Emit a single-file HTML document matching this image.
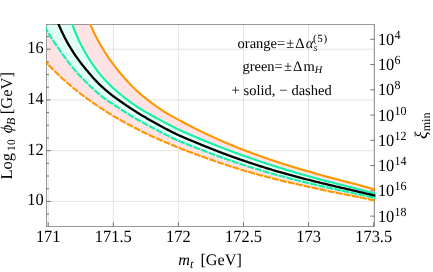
<!DOCTYPE html><html><head><meta charset="utf-8"><title>chart</title><style>
html,body{margin:0;padding:0;background:#fff}
body{width:433px;height:272px;position:relative;overflow:hidden;font-family:"Liberation Serif",serif;color:#000;text-rendering:geometricPrecision}
.t{position:absolute;white-space:nowrap;line-height:1;font-size:16px}
.c{transform:translateX(-50%)}
.r{transform:translateX(-100%)}
.cy{transform:translateX(-50%) scaleY(1.04);transform-origin:50% 84%}
.ry{transform:translateX(-100%) scaleY(1.04);transform-origin:50% 84%}
.y{transform:scaleY(1.04);transform-origin:0 84%}
.s{position:relative}

</style></head><body>
<svg width="433" height="272" viewBox="0 0 433 272" style="position:absolute;left:0;top:0">
<defs><clipPath id="c"><rect x="46.5" y="24.5" width="328.0" height="202.0"/></clipPath><clipPath id="c2"><rect x="46.1" y="24.1" width="329.3" height="202.8"/></clipPath></defs>
<rect x="0" y="0" width="433" height="272" fill="#fff"/>
<line x1="48.20" x2="48.20" y1="24.5" y2="226.5" stroke="#d8d8d8" stroke-width="0.7"/>
<line x1="113.30" x2="113.30" y1="24.5" y2="226.5" stroke="#d8d8d8" stroke-width="0.7"/>
<line x1="178.40" x2="178.40" y1="24.5" y2="226.5" stroke="#d8d8d8" stroke-width="0.7"/>
<line x1="243.50" x2="243.50" y1="24.5" y2="226.5" stroke="#d8d8d8" stroke-width="0.7"/>
<line x1="308.60" x2="308.60" y1="24.5" y2="226.5" stroke="#d8d8d8" stroke-width="0.7"/>
<line x1="373.70" x2="373.70" y1="24.5" y2="226.5" stroke="#d8d8d8" stroke-width="0.7"/>
<line x1="46.5" x2="374.5" y1="201.40" y2="201.40" stroke="#d8d8d8" stroke-width="0.7"/>
<line x1="46.5" x2="374.5" y1="150.66" y2="150.66" stroke="#d8d8d8" stroke-width="0.7"/>
<line x1="46.5" x2="374.5" y1="99.92" y2="99.92" stroke="#d8d8d8" stroke-width="0.7"/>
<line x1="46.5" x2="374.5" y1="49.18" y2="49.18" stroke="#d8d8d8" stroke-width="0.7"/>
<g clip-path="url(#c)">
<path d="M46.50 24.50 L86.50 15.33 L87.40 17.62 L88.31 19.84 L89.22 22.01 L90.13 24.12 L91.03 26.18 L91.94 28.18 L92.85 30.13 L93.76 32.04 L94.66 33.90 L95.57 35.71 L96.48 37.49 L97.38 39.22 L98.29 40.91 L99.20 42.56 L100.11 44.18 L101.01 45.76 L101.92 47.31 L102.83 48.83 L103.74 50.32 L104.64 51.77 L105.55 53.20 L106.46 54.60 L107.36 55.97 L108.27 57.31 L109.18 58.63 L110.09 59.93 L110.99 61.20 L111.90 62.45 L112.81 63.67 L113.72 64.88 L114.62 66.06 L115.53 67.22 L116.44 68.38 L117.34 69.51 L118.25 70.64 L119.16 71.75 L120.07 72.85 L120.97 73.94 L121.88 75.01 L122.79 76.08 L123.70 77.12 L124.60 78.16 L125.51 79.18 L126.42 80.19 L127.32 81.19 L128.23 82.17 L129.14 83.14 L130.05 84.10 L130.95 85.04 L131.86 85.97 L132.77 86.88 L133.68 87.78 L134.58 88.66 L135.49 89.53 L136.40 90.39 L137.30 91.23 L138.21 92.05 L139.12 92.85 L140.03 93.64 L140.93 94.42 L141.84 95.19 L142.75 95.95 L143.66 96.70 L144.56 97.44 L145.47 98.17 L146.38 98.89 L147.28 99.61 L148.19 100.32 L149.10 101.02 L150.01 101.71 L150.91 102.40 L151.82 103.08 L152.73 103.75 L153.64 104.41 L154.54 105.07 L155.45 105.72 L156.36 106.36 L157.26 107.00 L158.17 107.63 L159.08 108.26 L159.99 108.88 L160.89 109.49 L161.80 110.09 L162.71 110.68 L163.62 111.26 L164.52 111.83 L165.43 112.39 L166.34 112.94 L167.24 113.49 L168.15 114.02 L169.06 114.56 L169.97 115.08 L170.87 115.60 L171.78 116.11 L172.69 116.62 L173.60 117.12 L174.50 117.62 L175.41 118.12 L176.32 118.61 L177.22 119.10 L178.13 119.59 L179.04 120.08 L179.95 120.56 L180.85 121.05 L181.76 121.53 L182.67 122.02 L183.58 122.51 L184.48 122.99 L185.39 123.48 L186.30 123.97 L187.20 124.45 L188.11 124.93 L189.02 125.40 L189.93 125.88 L190.83 126.35 L191.74 126.81 L192.65 127.27 L193.56 127.73 L194.46 128.19 L195.37 128.64 L196.28 129.09 L197.18 129.54 L198.09 129.99 L199.00 130.43 L199.91 130.88 L200.81 131.32 L201.72 131.76 L202.63 132.20 L203.54 132.63 L204.44 133.07 L205.35 133.50 L206.26 133.93 L207.16 134.36 L208.07 134.78 L208.98 135.21 L209.89 135.63 L210.79 136.05 L211.70 136.47 L212.61 136.89 L213.52 137.31 L214.42 137.72 L215.33 138.13 L216.24 138.54 L217.14 138.95 L218.05 139.36 L218.96 139.76 L219.87 140.16 L220.77 140.56 L221.68 140.96 L222.59 141.36 L223.50 141.75 L224.40 142.14 L225.31 142.53 L226.22 142.92 L227.12 143.30 L228.03 143.69 L228.94 144.07 L229.85 144.45 L230.75 144.82 L231.66 145.20 L232.57 145.57 L233.48 145.94 L234.38 146.31 L235.29 146.67 L236.20 147.03 L237.10 147.40 L238.01 147.75 L238.92 148.11 L239.83 148.47 L240.73 148.82 L241.64 149.18 L242.55 149.53 L243.46 149.88 L244.36 150.23 L245.27 150.58 L246.18 150.92 L247.08 151.27 L247.99 151.61 L248.90 151.95 L249.81 152.29 L250.71 152.63 L251.62 152.97 L252.53 153.31 L253.44 153.64 L254.34 153.98 L255.25 154.31 L256.16 154.64 L257.06 154.97 L257.97 155.30 L258.88 155.62 L259.79 155.95 L260.69 156.27 L261.60 156.60 L262.51 156.92 L263.42 157.24 L264.32 157.56 L265.23 157.87 L266.14 158.19 L267.04 158.50 L267.95 158.82 L268.86 159.13 L269.77 159.44 L270.67 159.75 L271.58 160.06 L272.49 160.36 L273.40 160.67 L274.30 160.97 L275.21 161.27 L276.12 161.58 L277.02 161.88 L277.93 162.17 L278.84 162.47 L279.75 162.77 L280.65 163.06 L281.56 163.35 L282.47 163.65 L283.38 163.94 L284.28 164.22 L285.19 164.51 L286.10 164.80 L287.00 165.08 L287.91 165.37 L288.82 165.65 L289.73 165.93 L290.63 166.21 L291.54 166.49 L292.45 166.77 L293.36 167.04 L294.26 167.32 L295.17 167.59 L296.08 167.87 L296.98 168.14 L297.89 168.41 L298.80 168.68 L299.71 168.95 L300.61 169.22 L301.52 169.48 L302.43 169.75 L303.34 170.01 L304.24 170.28 L305.15 170.54 L306.06 170.80 L306.96 171.07 L307.87 171.33 L308.78 171.59 L309.69 171.85 L310.59 172.10 L311.50 172.36 L312.41 172.62 L313.32 172.88 L314.22 173.13 L315.13 173.39 L316.04 173.64 L316.94 173.89 L317.85 174.15 L318.76 174.40 L319.67 174.65 L320.57 174.90 L321.48 175.15 L322.39 175.41 L323.30 175.66 L324.20 175.90 L325.11 176.15 L326.02 176.40 L326.92 176.65 L327.83 176.90 L328.74 177.15 L329.65 177.39 L330.55 177.64 L331.46 177.88 L332.37 178.12 L333.28 178.36 L334.18 178.60 L335.09 178.84 L336.00 179.08 L336.90 179.32 L337.81 179.55 L338.72 179.79 L339.63 180.02 L340.53 180.26 L341.44 180.50 L342.35 180.73 L343.26 180.97 L344.16 181.20 L345.07 181.44 L345.98 181.67 L346.88 181.91 L347.79 182.14 L348.70 182.38 L349.61 182.62 L350.51 182.86 L351.42 183.10 L352.33 183.33 L353.24 183.58 L354.14 183.82 L355.05 184.06 L355.96 184.31 L356.86 184.55 L357.77 184.80 L358.68 185.05 L359.59 185.30 L360.49 185.55 L361.40 185.80 L362.31 186.05 L363.22 186.30 L364.12 186.55 L365.03 186.80 L365.94 187.05 L366.84 187.30 L367.75 187.55 L368.66 187.80 L369.57 188.04 L370.47 188.28 L371.38 188.53 L372.29 188.77 L373.20 189.00 L374.10 189.24 L375.01 189.47 L375.92 189.71 L376.82 189.94 L377.73 190.17 L378.64 190.40 L379.55 190.63 L379.32 201.23 L379.32 201.23 L378.41 201.07 L377.51 200.90 L376.60 200.74 L375.69 200.58 L374.78 200.41 L373.88 200.25 L372.97 200.08 L372.06 199.90 L371.15 199.73 L370.25 199.55 L369.34 199.37 L368.43 199.18 L367.53 199.00 L366.62 198.81 L365.71 198.62 L364.80 198.43 L363.90 198.24 L362.99 198.05 L362.08 197.86 L361.17 197.67 L360.27 197.48 L359.36 197.29 L358.45 197.11 L357.55 196.92 L356.64 196.73 L355.73 196.55 L354.82 196.37 L353.92 196.20 L353.01 196.02 L352.10 195.85 L351.19 195.67 L350.29 195.49 L349.38 195.32 L348.47 195.14 L347.57 194.97 L346.66 194.79 L345.75 194.62 L344.84 194.44 L343.94 194.26 L343.03 194.09 L342.12 193.91 L341.21 193.73 L340.31 193.56 L339.40 193.38 L338.49 193.20 L337.59 193.02 L336.68 192.84 L335.77 192.65 L334.86 192.47 L333.96 192.29 L333.05 192.10 L332.14 191.92 L331.23 191.73 L330.33 191.55 L329.42 191.36 L328.51 191.17 L327.61 190.98 L326.70 190.78 L325.79 190.59 L324.88 190.40 L323.98 190.20 L323.07 190.01 L322.16 189.82 L321.25 189.62 L320.35 189.42 L319.44 189.23 L318.53 189.03 L317.63 188.83 L316.72 188.63 L315.81 188.43 L314.90 188.23 L314.00 188.03 L313.09 187.83 L312.18 187.63 L311.27 187.43 L310.37 187.23 L309.46 187.02 L308.55 186.82 L307.65 186.61 L306.74 186.41 L305.83 186.20 L304.92 185.99 L304.02 185.79 L303.11 185.58 L302.20 185.37 L301.29 185.16 L300.39 184.95 L299.48 184.74 L298.57 184.53 L297.67 184.33 L296.76 184.12 L295.85 183.92 L294.94 183.72 L294.04 183.52 L293.13 183.32 L292.22 183.13 L291.31 182.93 L290.41 182.73 L289.50 182.53 L288.59 182.33 L287.69 182.13 L286.78 181.93 L285.87 181.72 L284.96 181.52 L284.06 181.31 L283.15 181.10 L282.24 180.88 L281.33 180.66 L280.43 180.44 L279.52 180.21 L278.61 179.98 L277.71 179.75 L276.80 179.52 L275.89 179.29 L274.98 179.06 L274.08 178.82 L273.17 178.59 L272.26 178.35 L271.35 178.12 L270.45 177.88 L269.54 177.64 L268.63 177.40 L267.73 177.16 L266.82 176.92 L265.91 176.67 L265.00 176.43 L264.10 176.18 L263.19 175.94 L262.28 175.69 L261.37 175.44 L260.47 175.19 L259.56 174.94 L258.65 174.69 L257.75 174.44 L256.84 174.18 L255.93 173.93 L255.02 173.67 L254.12 173.42 L253.21 173.16 L252.30 172.90 L251.39 172.64 L250.49 172.38 L249.58 172.12 L248.67 171.85 L247.77 171.59 L246.86 171.32 L245.95 171.06 L245.04 170.79 L244.14 170.52 L243.23 170.25 L242.32 169.98 L241.41 169.71 L240.51 169.44 L239.60 169.16 L238.69 168.89 L237.79 168.61 L236.88 168.34 L235.97 168.06 L235.06 167.78 L234.16 167.50 L233.25 167.21 L232.34 166.93 L231.43 166.64 L230.53 166.35 L229.62 166.06 L228.71 165.77 L227.81 165.48 L226.90 165.18 L225.99 164.88 L225.08 164.58 L224.18 164.28 L223.27 163.98 L222.36 163.68 L221.45 163.37 L220.55 163.07 L219.64 162.76 L218.73 162.45 L217.83 162.14 L216.92 161.83 L216.01 161.52 L215.10 161.20 L214.20 160.89 L213.29 160.57 L212.38 160.26 L211.47 159.94 L210.57 159.62 L209.66 159.30 L208.75 158.98 L207.85 158.65 L206.94 158.33 L206.03 158.01 L205.12 157.68 L204.22 157.36 L203.31 157.03 L202.40 156.70 L201.49 156.37 L200.59 156.04 L199.68 155.71 L198.77 155.38 L197.87 155.05 L196.96 154.72 L196.05 154.39 L195.14 154.06 L194.24 153.72 L193.33 153.38 L192.42 153.05 L191.51 152.71 L190.61 152.37 L189.70 152.02 L188.79 151.68 L187.89 151.33 L186.98 150.99 L186.07 150.64 L185.16 150.29 L184.26 149.94 L183.35 149.58 L182.44 149.23 L181.53 148.87 L180.63 148.51 L179.72 148.15 L178.81 147.79 L177.91 147.43 L177.00 147.06 L176.09 146.70 L175.18 146.33 L174.28 145.96 L173.37 145.58 L172.46 145.21 L171.55 144.83 L170.65 144.46 L169.74 144.08 L168.83 143.70 L167.93 143.31 L167.02 142.93 L166.11 142.54 L165.20 142.15 L164.30 141.76 L163.39 141.37 L162.48 140.97 L161.57 140.58 L160.67 140.18 L159.76 139.78 L158.85 139.37 L157.95 138.97 L157.04 138.56 L156.13 138.15 L155.22 137.74 L154.32 137.33 L153.41 136.91 L152.50 136.50 L151.59 136.08 L150.69 135.65 L149.78 135.23 L148.87 134.80 L147.97 134.37 L147.06 133.94 L146.15 133.51 L145.24 133.07 L144.34 132.64 L143.43 132.19 L142.52 131.75 L141.61 131.30 L140.71 130.86 L139.80 130.40 L138.89 129.95 L137.99 129.49 L137.08 129.04 L136.17 128.57 L135.26 128.11 L134.36 127.64 L133.45 127.17 L132.54 126.70 L131.63 126.22 L130.73 125.74 L129.82 125.26 L128.91 124.78 L128.01 124.29 L127.10 123.80 L126.19 123.31 L125.28 122.81 L124.38 122.31 L123.47 121.81 L122.56 121.30 L121.65 120.79 L120.75 120.28 L119.84 119.77 L118.93 119.25 L118.03 118.73 L117.12 118.20 L116.21 117.67 L115.30 117.14 L114.40 116.61 L113.49 116.07 L112.58 115.52 L111.67 114.98 L110.77 114.43 L109.86 113.88 L108.95 113.32 L108.05 112.76 L107.14 112.19 L106.23 111.63 L105.32 111.05 L104.42 110.48 L103.51 109.90 L102.60 109.31 L101.69 108.72 L100.79 108.13 L99.88 107.54 L98.97 106.94 L98.07 106.33 L97.16 105.72 L96.25 105.11 L95.34 104.49 L94.44 103.87 L93.53 103.24 L92.62 102.61 L91.71 101.97 L90.81 101.33 L89.90 100.69 L88.99 100.04 L88.09 99.38 L87.18 98.72 L86.27 98.06 L85.36 97.39 L84.46 96.71 L83.55 96.03 L82.64 95.35 L81.73 94.65 L80.83 93.96 L79.92 93.26 L79.01 92.55 L78.11 91.84 L77.20 91.12 L76.29 90.39 L75.38 89.66 L74.48 88.93 L73.57 88.18 L72.66 87.44 L71.75 86.68 L70.85 85.92 L69.94 85.15 L69.03 84.38 L68.13 83.60 L67.22 82.81 L66.31 82.02 L65.40 81.22 L64.50 80.41 L63.59 79.60 L62.68 78.78 L61.77 77.95 L60.87 77.11 L59.96 76.27 L59.05 75.42 L58.15 74.56 L57.24 73.69 L56.33 72.82 L55.42 71.94 L54.52 71.05 L53.61 70.15 L52.70 69.24 L51.79 68.33 L50.89 67.40 L49.98 66.47 L49.07 65.53 L48.17 64.58 L47.26 63.62 L46.35 62.65 L45.44 61.67 L44.54 60.68 L43.63 59.68 L42.72 58.67 L41.81 57.65 L40.91 56.62 L40.00 55.58 Z" fill="#ffe3e4"/>
<path d="M46.50 24.50 L69.26 15.18 L70.17 18.08 L71.07 20.84 L71.98 23.49 L72.89 26.01 L73.80 28.44 L74.70 30.77 L75.61 33.01 L76.52 35.16 L77.42 37.24 L78.33 39.24 L79.24 41.18 L80.15 43.05 L81.05 44.87 L81.96 46.62 L82.87 48.33 L83.78 49.98 L84.68 51.59 L85.59 53.15 L86.50 54.68 L87.40 56.18 L88.31 57.65 L89.22 59.09 L90.13 60.51 L91.03 61.89 L91.94 63.25 L92.85 64.58 L93.76 65.89 L94.66 67.17 L95.57 68.43 L96.48 69.65 L97.38 70.86 L98.29 72.03 L99.20 73.19 L100.11 74.31 L101.01 75.41 L101.92 76.48 L102.83 77.53 L103.74 78.55 L104.64 79.54 L105.55 80.51 L106.46 81.45 L107.36 82.39 L108.27 83.31 L109.18 84.21 L110.09 85.10 L110.99 85.97 L111.90 86.83 L112.81 87.68 L113.72 88.52 L114.62 89.34 L115.53 90.16 L116.44 90.96 L117.34 91.75 L118.25 92.52 L119.16 93.29 L120.07 94.05 L120.97 94.80 L121.88 95.54 L122.79 96.27 L123.70 96.99 L124.60 97.70 L125.51 98.40 L126.42 99.10 L127.32 99.78 L128.23 100.46 L129.14 101.13 L130.05 101.80 L130.95 102.45 L131.86 103.10 L132.77 103.74 L133.68 104.38 L134.58 105.01 L135.49 105.63 L136.40 106.24 L137.30 106.84 L138.21 107.43 L139.12 108.02 L140.03 108.59 L140.93 109.16 L141.84 109.72 L142.75 110.27 L143.66 110.82 L144.56 111.36 L145.47 111.89 L146.38 112.42 L147.28 112.94 L148.19 113.46 L149.10 113.97 L150.01 114.48 L150.91 114.99 L151.82 115.49 L152.73 115.99 L153.64 116.48 L154.54 116.98 L155.45 117.47 L156.36 117.96 L157.26 118.45 L158.17 118.94 L159.08 119.43 L159.99 119.92 L160.89 120.41 L161.80 120.90 L162.71 121.38 L163.62 121.87 L164.52 122.35 L165.43 122.83 L166.34 123.31 L167.24 123.79 L168.15 124.27 L169.06 124.74 L169.97 125.21 L170.87 125.67 L171.78 126.14 L172.69 126.59 L173.60 127.05 L174.50 127.50 L175.41 127.95 L176.32 128.39 L177.22 128.83 L178.13 129.26 L179.04 129.69 L179.95 130.11 L180.85 130.53 L181.76 130.94 L182.67 131.35 L183.58 131.76 L184.48 132.17 L185.39 132.57 L186.30 132.97 L187.20 133.37 L188.11 133.77 L189.02 134.16 L189.93 134.55 L190.83 134.94 L191.74 135.33 L192.65 135.72 L193.56 136.10 L194.46 136.49 L195.37 136.87 L196.28 137.26 L197.18 137.64 L198.09 138.03 L199.00 138.41 L199.91 138.79 L200.81 139.17 L201.72 139.55 L202.63 139.92 L203.54 140.30 L204.44 140.67 L205.35 141.05 L206.26 141.42 L207.16 141.79 L208.07 142.16 L208.98 142.53 L209.89 142.90 L210.79 143.27 L211.70 143.64 L212.61 144.00 L213.52 144.36 L214.42 144.73 L215.33 145.09 L216.24 145.45 L217.14 145.81 L218.05 146.16 L218.96 146.52 L219.87 146.88 L220.77 147.23 L221.68 147.58 L222.59 147.93 L223.50 148.28 L224.40 148.63 L225.31 148.98 L226.22 149.32 L227.12 149.67 L228.03 150.01 L228.94 150.35 L229.85 150.69 L230.75 151.03 L231.66 151.37 L232.57 151.70 L233.48 152.04 L234.38 152.37 L235.29 152.70 L236.20 153.03 L237.10 153.36 L238.01 153.69 L238.92 154.02 L239.83 154.34 L240.73 154.67 L241.64 154.99 L242.55 155.32 L243.46 155.64 L244.36 155.96 L245.27 156.28 L246.18 156.60 L247.08 156.92 L247.99 157.24 L248.90 157.56 L249.81 157.88 L250.71 158.19 L251.62 158.51 L252.53 158.82 L253.44 159.13 L254.34 159.45 L255.25 159.76 L256.16 160.07 L257.06 160.38 L257.97 160.68 L258.88 160.99 L259.79 161.30 L260.69 161.60 L261.60 161.91 L262.51 162.21 L263.42 162.51 L264.32 162.81 L265.23 163.11 L266.14 163.41 L267.04 163.70 L267.95 164.00 L268.86 164.30 L269.77 164.59 L270.67 164.88 L271.58 165.17 L272.49 165.46 L273.40 165.75 L274.30 166.04 L275.21 166.33 L276.12 166.61 L277.02 166.89 L277.93 167.18 L278.84 167.46 L279.75 167.74 L280.65 168.02 L281.56 168.29 L282.47 168.57 L283.38 168.85 L284.28 169.12 L285.19 169.40 L286.10 169.67 L287.00 169.95 L287.91 170.22 L288.82 170.49 L289.73 170.77 L290.63 171.04 L291.54 171.31 L292.45 171.58 L293.36 171.85 L294.26 172.12 L295.17 172.39 L296.08 172.65 L296.98 172.92 L297.89 173.19 L298.80 173.46 L299.71 173.72 L300.61 173.99 L301.52 174.25 L302.43 174.51 L303.34 174.77 L304.24 175.03 L305.15 175.29 L306.06 175.54 L306.96 175.80 L307.87 176.05 L308.78 176.30 L309.69 176.55 L310.59 176.80 L311.50 177.05 L312.41 177.30 L313.32 177.54 L314.22 177.79 L315.13 178.03 L316.04 178.28 L316.94 178.52 L317.85 178.76 L318.76 179.01 L319.67 179.25 L320.57 179.49 L321.48 179.73 L322.39 179.97 L323.30 180.21 L324.20 180.45 L325.11 180.69 L326.02 180.92 L326.92 181.16 L327.83 181.40 L328.74 181.64 L329.65 181.88 L330.55 182.11 L331.46 182.34 L332.37 182.58 L333.28 182.81 L334.18 183.04 L335.09 183.27 L336.00 183.49 L336.90 183.72 L337.81 183.95 L338.72 184.17 L339.63 184.40 L340.53 184.63 L341.44 184.85 L342.35 185.08 L343.26 185.30 L344.16 185.53 L345.07 185.76 L345.98 185.99 L346.88 186.21 L347.79 186.44 L348.70 186.67 L349.61 186.90 L350.51 187.13 L351.42 187.37 L352.33 187.60 L353.24 187.84 L354.14 188.08 L355.05 188.32 L355.96 188.56 L356.86 188.80 L357.77 189.05 L358.68 189.29 L359.59 189.54 L360.49 189.79 L361.40 190.03 L362.31 190.28 L363.22 190.53 L364.12 190.78 L365.03 191.03 L365.94 191.27 L366.84 191.52 L367.75 191.77 L368.66 192.01 L369.57 192.25 L370.47 192.50 L371.38 192.73 L372.29 192.97 L373.20 193.21 L374.10 193.44 L375.01 193.67 L375.92 193.90 L376.82 194.13 L377.73 194.36 L378.64 194.59 L379.55 194.82 L379.32 198.74 L379.32 198.74 L378.41 198.55 L377.51 198.37 L376.60 198.19 L375.69 198.00 L374.78 197.82 L373.88 197.63 L372.97 197.44 L372.06 197.25 L371.15 197.06 L370.25 196.87 L369.34 196.67 L368.43 196.47 L367.53 196.27 L366.62 196.07 L365.71 195.87 L364.80 195.66 L363.90 195.46 L362.99 195.26 L362.08 195.05 L361.17 194.85 L360.27 194.64 L359.36 194.44 L358.45 194.24 L357.55 194.04 L356.64 193.83 L355.73 193.64 L354.82 193.44 L353.92 193.24 L353.01 193.04 L352.10 192.85 L351.19 192.65 L350.29 192.46 L349.38 192.27 L348.47 192.07 L347.57 191.88 L346.66 191.68 L345.75 191.49 L344.84 191.30 L343.94 191.10 L343.03 190.91 L342.12 190.72 L341.21 190.52 L340.31 190.33 L339.40 190.13 L338.49 189.94 L337.59 189.74 L336.68 189.54 L335.77 189.35 L334.86 189.15 L333.96 188.95 L333.05 188.75 L332.14 188.55 L331.23 188.35 L330.33 188.15 L329.42 187.95 L328.51 187.74 L327.61 187.54 L326.70 187.33 L325.79 187.12 L324.88 186.92 L323.98 186.71 L323.07 186.50 L322.16 186.30 L321.25 186.09 L320.35 185.88 L319.44 185.67 L318.53 185.46 L317.63 185.25 L316.72 185.04 L315.81 184.82 L314.90 184.61 L314.00 184.40 L313.09 184.18 L312.18 183.97 L311.27 183.75 L310.37 183.54 L309.46 183.32 L308.55 183.10 L307.65 182.89 L306.74 182.67 L305.83 182.45 L304.92 182.23 L304.02 182.01 L303.11 181.78 L302.20 181.56 L301.29 181.34 L300.39 181.11 L299.48 180.89 L298.57 180.66 L297.67 180.43 L296.76 180.21 L295.85 179.98 L294.94 179.75 L294.04 179.52 L293.13 179.28 L292.22 179.05 L291.31 178.82 L290.41 178.58 L289.50 178.35 L288.59 178.11 L287.69 177.87 L286.78 177.63 L285.87 177.39 L284.96 177.15 L284.06 176.91 L283.15 176.66 L282.24 176.42 L281.33 176.17 L280.43 175.92 L279.52 175.68 L278.61 175.43 L277.71 175.17 L276.80 174.92 L275.89 174.67 L274.98 174.42 L274.08 174.16 L273.17 173.90 L272.26 173.65 L271.35 173.39 L270.45 173.13 L269.54 172.87 L268.63 172.61 L267.73 172.34 L266.82 172.08 L265.91 171.82 L265.00 171.55 L264.10 171.28 L263.19 171.01 L262.28 170.75 L261.37 170.48 L260.47 170.20 L259.56 169.93 L258.65 169.66 L257.75 169.38 L256.84 169.11 L255.93 168.83 L255.02 168.55 L254.12 168.27 L253.21 167.99 L252.30 167.71 L251.39 167.43 L250.49 167.15 L249.58 166.86 L248.67 166.58 L247.77 166.29 L246.86 166.00 L245.95 165.71 L245.04 165.42 L244.14 165.13 L243.23 164.84 L242.32 164.54 L241.41 164.25 L240.51 163.95 L239.60 163.66 L238.69 163.36 L237.79 163.06 L236.88 162.76 L235.97 162.46 L235.06 162.16 L234.16 161.85 L233.25 161.55 L232.34 161.24 L231.43 160.93 L230.53 160.62 L229.62 160.30 L228.71 159.99 L227.81 159.67 L226.90 159.35 L225.99 159.03 L225.08 158.71 L224.18 158.39 L223.27 158.06 L222.36 157.74 L221.45 157.41 L220.55 157.08 L219.64 156.75 L218.73 156.42 L217.83 156.08 L216.92 155.75 L216.01 155.41 L215.10 155.08 L214.20 154.74 L213.29 154.40 L212.38 154.06 L211.47 153.71 L210.57 153.37 L209.66 153.03 L208.75 152.68 L207.85 152.33 L206.94 151.99 L206.03 151.64 L205.12 151.29 L204.22 150.94 L203.31 150.59 L202.40 150.23 L201.49 149.88 L200.59 149.53 L199.68 149.17 L198.77 148.82 L197.87 148.46 L196.96 148.10 L196.05 147.74 L195.14 147.39 L194.24 147.03 L193.33 146.68 L192.42 146.33 L191.51 145.98 L190.61 145.63 L189.70 145.28 L188.79 144.93 L187.89 144.58 L186.98 144.23 L186.07 143.87 L185.16 143.51 L184.26 143.15 L183.35 142.79 L182.44 142.42 L181.53 142.05 L180.63 141.67 L179.72 141.29 L178.81 140.90 L177.91 140.50 L177.00 140.10 L176.09 139.69 L175.18 139.27 L174.28 138.85 L173.37 138.42 L172.46 137.99 L171.55 137.55 L170.65 137.11 L169.74 136.66 L168.83 136.21 L167.93 135.75 L167.02 135.29 L166.11 134.83 L165.20 134.37 L164.30 133.90 L163.39 133.43 L162.48 132.95 L161.57 132.48 L160.67 132.00 L159.76 131.53 L158.85 131.05 L157.95 130.57 L157.04 130.09 L156.13 129.61 L155.22 129.13 L154.32 128.65 L153.41 128.17 L152.50 127.69 L151.59 127.21 L150.69 126.73 L149.78 126.26 L148.87 125.78 L147.97 125.30 L147.06 124.82 L146.15 124.33 L145.24 123.84 L144.34 123.35 L143.43 122.85 L142.52 122.35 L141.61 121.85 L140.71 121.34 L139.80 120.84 L138.89 120.32 L137.99 119.81 L137.08 119.29 L136.17 118.76 L135.26 118.23 L134.36 117.70 L133.45 117.17 L132.54 116.63 L131.63 116.08 L130.73 115.54 L129.82 114.99 L128.91 114.43 L128.01 113.87 L127.10 113.31 L126.19 112.74 L125.28 112.17 L124.38 111.59 L123.47 111.01 L122.56 110.42 L121.65 109.83 L120.75 109.24 L119.84 108.64 L118.93 108.04 L118.03 107.45 L117.12 106.85 L116.21 106.26 L115.30 105.67 L114.40 105.09 L113.49 104.50 L112.58 103.90 L111.67 103.31 L110.77 102.71 L109.86 102.10 L108.95 101.49 L108.05 100.88 L107.14 100.25 L106.23 99.62 L105.32 98.97 L104.42 98.32 L103.51 97.65 L102.60 96.97 L101.69 96.27 L100.79 95.56 L99.88 94.84 L98.97 94.09 L98.07 93.32 L97.16 92.53 L96.25 91.72 L95.34 90.89 L94.44 90.05 L93.53 89.20 L92.62 88.33 L91.71 87.46 L90.81 86.58 L89.90 85.70 L88.99 84.81 L88.09 83.92 L87.18 83.03 L86.27 82.14 L85.36 81.26 L84.46 80.39 L83.55 79.50 L82.64 78.60 L81.73 77.69 L80.83 76.77 L79.92 75.84 L79.01 74.89 L78.11 73.91 L77.20 72.91 L76.29 71.89 L75.38 70.84 L74.48 69.77 L73.57 68.68 L72.66 67.57 L71.75 66.44 L70.85 65.30 L69.94 64.14 L69.03 62.96 L68.13 61.77 L67.22 60.56 L66.31 59.34 L65.40 58.10 L64.50 56.86 L63.59 55.60 L62.68 54.34 L61.77 53.06 L60.87 51.78 L59.96 50.48 L59.05 49.19 L58.15 47.90 L57.24 46.61 L56.33 45.31 L55.42 43.99 L54.52 42.67 L53.61 41.32 L52.70 39.94 L51.79 38.53 L50.89 37.08 L49.98 35.59 L49.07 34.06 L48.17 32.47 L47.26 30.82 L46.35 29.11 L45.44 27.33 L44.54 25.51 L43.63 23.64 L42.72 21.72 L41.81 19.75 L40.91 17.73 L40.00 15.65 Z" fill="#e1fff4"/>
</g>
<rect x="46.5" y="24.5" width="328.0" height="202.0" fill="none" stroke="#808080" stroke-width="0.8"/>
<g clip-path="url(#c2)" fill="none" stroke-linejoin="round">
<path d="M40.00 55.58 L40.57 56.23 L41.14 56.88 L41.71 57.53 L42.28 58.17 M43.06 59.05 L44.24 60.35 L45.42 61.64 L46.61 62.92 L47.81 64.20 M48.62 65.05 L49.83 66.31 L51.05 67.57 L52.28 68.81 L53.51 70.05 M54.35 70.88 L55.60 72.11 L56.85 73.32 L58.12 74.54 L59.39 75.74 M60.25 76.54 L61.53 77.73 L62.83 78.91 L64.13 80.08 L65.43 81.25 M66.31 82.02 L67.63 83.17 L68.96 84.32 L70.29 85.45 L71.63 86.58 M72.53 87.33 L73.88 88.44 L75.24 89.55 L76.61 90.64 L77.98 91.73 M78.90 92.46 L80.28 93.53 L81.67 94.60 L83.06 95.66 L84.46 96.71 M85.40 97.42 L86.81 98.45 L88.23 99.48 L89.65 100.51 L91.07 101.52 M92.03 102.20 L93.47 103.20 L94.91 104.19 L96.36 105.18 L97.81 106.16 M98.78 106.81 L100.24 107.78 L101.71 108.73 L103.18 109.68 L104.65 110.63 M105.65 111.26 L107.13 112.19 L108.61 113.11 L110.11 114.03 L111.60 114.93 M112.61 115.54 L114.11 116.44 L115.62 117.33 L117.13 118.21 L118.65 119.08 M119.67 119.67 L121.19 120.53 L122.71 121.39 L124.24 122.24 L125.78 123.08 M126.81 123.64 L128.35 124.48 L129.89 125.30 L131.44 126.12 L132.99 126.93 M134.03 127.47 L135.59 128.28 L137.15 129.07 L138.71 129.86 L140.28 130.64 M141.33 131.16 L142.90 131.94 L144.47 132.70 L146.05 133.46 L147.63 134.22 M148.69 134.72 L150.28 135.46 L151.86 136.20 L153.45 136.93 L155.04 137.66 M156.11 138.15 L157.71 138.86 L159.31 139.58 L160.91 140.28 L162.51 140.99 M163.59 141.46 L165.20 142.15 L166.81 142.84 L168.42 143.52 L170.03 144.20 M171.12 144.65 L172.73 145.32 L174.35 145.99 L175.97 146.65 L177.59 147.30 M178.69 147.74 L180.31 148.39 L181.94 149.03 L183.57 149.67 L185.20 150.30 M186.30 150.73 L187.93 151.35 L189.57 151.97 L191.21 152.59 L192.84 153.20 M193.95 153.61 L195.59 154.22 L197.23 154.82 L198.88 155.42 L200.52 156.02 M201.63 156.42 L203.27 157.02 L204.92 157.61 L206.57 158.20 L208.21 158.79 M209.32 159.18 L210.97 159.76 L212.62 160.34 L214.28 160.92 L215.93 161.49 M217.04 161.87 L218.70 162.44 L220.35 163.00 L222.01 163.56 L223.67 164.12 M224.79 164.49 L226.45 165.03 L228.11 165.58 L229.78 166.11 L231.45 166.64 M232.57 167.00 L234.24 167.52 L235.91 168.04 L237.58 168.55 L239.26 169.06 M240.38 169.40 L242.06 169.90 L243.74 170.40 L245.42 170.90 L247.09 171.39 M248.22 171.72 L249.90 172.21 L251.59 172.70 L253.27 173.18 L254.95 173.65 M256.08 173.97 L257.77 174.44 L259.46 174.91 L261.14 175.38 L262.83 175.84 M263.96 176.15 L265.65 176.60 L267.34 177.06 L269.04 177.51 L270.73 177.95 M271.87 178.25 L273.56 178.69 L275.25 179.13 L276.95 179.56 L278.65 179.99 M279.79 180.28 L281.49 180.70 L283.19 181.11 L284.89 181.50 L286.60 181.89 M287.75 182.14 L289.46 182.52 L291.17 182.90 L292.87 183.27 L294.58 183.64 M295.73 183.89 L297.44 184.28 L299.15 184.66 L300.85 185.06 L302.56 185.45 M303.70 185.72 L305.41 186.11 L307.12 186.49 L308.82 186.88 L310.53 187.26 M311.68 187.52 L313.39 187.90 L315.10 188.28 L316.80 188.65 L318.51 189.03 M319.66 189.28 L321.37 189.65 L323.08 190.01 L324.80 190.38 L326.51 190.74 M327.66 190.99 L329.37 191.35 L331.08 191.70 L332.80 192.05 L334.51 192.40 M335.67 192.63 L337.38 192.98 L339.10 193.32 L340.82 193.66 L342.53 193.99 M343.69 194.22 L345.41 194.55 L347.12 194.88 L348.84 195.22 L350.56 195.55 M351.71 195.77 L353.43 196.10 L355.15 196.44 L356.87 196.78 L358.58 197.13 M359.73 197.37 L361.45 197.73 L363.16 198.09 L364.87 198.45 L366.58 198.80 M367.74 199.04 L369.45 199.39 L371.17 199.73 L372.89 200.06 L374.61 200.38 M375.76 200.59 L376.65 200.75 L377.54 200.91 L378.43 201.07 L379.32 201.23 " stroke="#ff9600" stroke-width="2.1"/>
<path d="M46.35 62.65 L47.26 63.62 L48.17 64.58 " stroke="#ff9600" stroke-width="2.1"/>
<path d="M86.50 15.33 L87.40 17.62 L88.31 19.84 L89.22 22.01 L90.13 24.12 L91.03 26.18 L91.94 28.18 L92.85 30.13 L93.76 32.04 L94.66 33.90 L95.57 35.71 L96.48 37.49 L97.38 39.22 L98.29 40.91 L99.20 42.56 L100.11 44.18 L101.01 45.76 L101.92 47.31 L102.83 48.83 L103.74 50.32 L104.64 51.77 L105.55 53.20 L106.46 54.60 L107.36 55.97 L108.27 57.31 L109.18 58.63 L110.09 59.93 L110.99 61.20 L111.90 62.45 L112.81 63.67 L113.72 64.88 L114.62 66.06 L115.53 67.22 L116.44 68.38 L117.34 69.51 L118.25 70.64 L119.16 71.75 L120.07 72.85 L120.97 73.94 L121.88 75.01 L122.79 76.08 L123.70 77.12 L124.60 78.16 L125.51 79.18 L126.42 80.19 L127.32 81.19 L128.23 82.17 L129.14 83.14 L130.05 84.10 L130.95 85.04 L131.86 85.97 L132.77 86.88 L133.68 87.78 L134.58 88.66 L135.49 89.53 L136.40 90.39 L137.30 91.23 L138.21 92.05 L139.12 92.85 L140.03 93.64 L140.93 94.42 L141.84 95.19 L142.75 95.95 L143.66 96.70 L144.56 97.44 L145.47 98.17 L146.38 98.89 L147.28 99.61 L148.19 100.32 L149.10 101.02 L150.01 101.71 L150.91 102.40 L151.82 103.08 L152.73 103.75 L153.64 104.41 L154.54 105.07 L155.45 105.72 L156.36 106.36 L157.26 107.00 L158.17 107.63 L159.08 108.26 L159.99 108.88 L160.89 109.49 L161.80 110.09 L162.71 110.68 L163.62 111.26 L164.52 111.83 L165.43 112.39 L166.34 112.94 L167.24 113.49 L168.15 114.02 L169.06 114.56 L169.97 115.08 L170.87 115.60 L171.78 116.11 L172.69 116.62 L173.60 117.12 L174.50 117.62 L175.41 118.12 L176.32 118.61 L177.22 119.10 L178.13 119.59 L179.04 120.08 L179.95 120.56 L180.85 121.05 L181.76 121.53 L182.67 122.02 L183.58 122.51 L184.48 122.99 L185.39 123.48 L186.30 123.97 L187.20 124.45 L188.11 124.93 L189.02 125.40 L189.93 125.88 L190.83 126.35 L191.74 126.81 L192.65 127.27 L193.56 127.73 L194.46 128.19 L195.37 128.64 L196.28 129.09 L197.18 129.54 L198.09 129.99 L199.00 130.43 L199.91 130.88 L200.81 131.32 L201.72 131.76 L202.63 132.20 L203.54 132.63 L204.44 133.07 L205.35 133.50 L206.26 133.93 L207.16 134.36 L208.07 134.78 L208.98 135.21 L209.89 135.63 L210.79 136.05 L211.70 136.47 L212.61 136.89 L213.52 137.31 L214.42 137.72 L215.33 138.13 L216.24 138.54 L217.14 138.95 L218.05 139.36 L218.96 139.76 L219.87 140.16 L220.77 140.56 L221.68 140.96 L222.59 141.36 L223.50 141.75 L224.40 142.14 L225.31 142.53 L226.22 142.92 L227.12 143.30 L228.03 143.69 L228.94 144.07 L229.85 144.45 L230.75 144.82 L231.66 145.20 L232.57 145.57 L233.48 145.94 L234.38 146.31 L235.29 146.67 L236.20 147.03 L237.10 147.40 L238.01 147.75 L238.92 148.11 L239.83 148.47 L240.73 148.82 L241.64 149.18 L242.55 149.53 L243.46 149.88 L244.36 150.23 L245.27 150.58 L246.18 150.92 L247.08 151.27 L247.99 151.61 L248.90 151.95 L249.81 152.29 L250.71 152.63 L251.62 152.97 L252.53 153.31 L253.44 153.64 L254.34 153.98 L255.25 154.31 L256.16 154.64 L257.06 154.97 L257.97 155.30 L258.88 155.62 L259.79 155.95 L260.69 156.27 L261.60 156.60 L262.51 156.92 L263.42 157.24 L264.32 157.56 L265.23 157.87 L266.14 158.19 L267.04 158.50 L267.95 158.82 L268.86 159.13 L269.77 159.44 L270.67 159.75 L271.58 160.06 L272.49 160.36 L273.40 160.67 L274.30 160.97 L275.21 161.27 L276.12 161.58 L277.02 161.88 L277.93 162.17 L278.84 162.47 L279.75 162.77 L280.65 163.06 L281.56 163.35 L282.47 163.65 L283.38 163.94 L284.28 164.22 L285.19 164.51 L286.10 164.80 L287.00 165.08 L287.91 165.37 L288.82 165.65 L289.73 165.93 L290.63 166.21 L291.54 166.49 L292.45 166.77 L293.36 167.04 L294.26 167.32 L295.17 167.59 L296.08 167.87 L296.98 168.14 L297.89 168.41 L298.80 168.68 L299.71 168.95 L300.61 169.22 L301.52 169.48 L302.43 169.75 L303.34 170.01 L304.24 170.28 L305.15 170.54 L306.06 170.80 L306.96 171.07 L307.87 171.33 L308.78 171.59 L309.69 171.85 L310.59 172.10 L311.50 172.36 L312.41 172.62 L313.32 172.88 L314.22 173.13 L315.13 173.39 L316.04 173.64 L316.94 173.89 L317.85 174.15 L318.76 174.40 L319.67 174.65 L320.57 174.90 L321.48 175.15 L322.39 175.41 L323.30 175.66 L324.20 175.90 L325.11 176.15 L326.02 176.40 L326.92 176.65 L327.83 176.90 L328.74 177.15 L329.65 177.39 L330.55 177.64 L331.46 177.88 L332.37 178.12 L333.28 178.36 L334.18 178.60 L335.09 178.84 L336.00 179.08 L336.90 179.32 L337.81 179.55 L338.72 179.79 L339.63 180.02 L340.53 180.26 L341.44 180.50 L342.35 180.73 L343.26 180.97 L344.16 181.20 L345.07 181.44 L345.98 181.67 L346.88 181.91 L347.79 182.14 L348.70 182.38 L349.61 182.62 L350.51 182.86 L351.42 183.10 L352.33 183.33 L353.24 183.58 L354.14 183.82 L355.05 184.06 L355.96 184.31 L356.86 184.55 L357.77 184.80 L358.68 185.05 L359.59 185.30 L360.49 185.55 L361.40 185.80 L362.31 186.05 L363.22 186.30 L364.12 186.55 L365.03 186.80 L365.94 187.05 L366.84 187.30 L367.75 187.55 L368.66 187.80 L369.57 188.04 L370.47 188.28 L371.38 188.53 L372.29 188.77 L373.20 189.00 L374.10 189.24 L375.01 189.47 L375.92 189.71 L376.82 189.94 L377.73 190.17 L378.64 190.40 L379.55 190.63 " stroke="#ff9600" stroke-width="2.1"/>
<path d="M40.00 15.65 L40.19 16.08 L40.37 16.51 L40.56 16.93 L40.75 17.36 M41.23 18.44 L41.94 20.03 L42.68 21.62 L43.43 23.20 L44.18 24.78 M44.70 25.84 L45.48 27.40 L46.28 28.96 L47.09 30.51 L47.93 32.05 M48.51 33.07 L49.38 34.59 L50.28 36.09 L51.20 37.58 L52.14 39.06 M52.77 40.05 L53.74 41.51 L54.72 42.96 L55.70 44.40 L56.70 45.84 M57.38 46.80 L58.38 48.23 L59.39 49.67 L60.39 51.10 L61.40 52.53 M62.08 53.49 L63.10 54.91 L64.12 56.34 L65.15 57.75 L66.18 59.16 M66.88 60.11 L67.93 61.51 L68.99 62.90 L70.06 64.29 L71.14 65.66 M71.87 66.59 L72.97 67.95 L74.08 69.30 L75.21 70.63 L76.35 71.96 M77.13 72.84 L78.31 74.13 L79.51 75.41 L80.72 76.67 L81.95 77.91 M82.79 78.74 L84.03 79.97 L85.29 81.19 L86.54 82.41 L87.80 83.63 M88.64 84.46 L89.89 85.68 L91.14 86.90 L92.40 88.12 L93.66 89.33 M94.52 90.13 L95.81 91.32 L97.11 92.49 L98.43 93.63 L99.78 94.75 M100.69 95.49 L102.07 96.56 L103.47 97.62 L104.88 98.65 L106.31 99.67 M107.27 100.34 L108.72 101.33 L110.17 102.31 L111.63 103.28 L113.09 104.23 M114.08 104.88 L115.54 105.83 L117.01 106.78 L118.48 107.74 L119.94 108.70 M120.92 109.35 L122.38 110.31 L123.85 111.26 L125.33 112.20 L126.81 113.13 M127.81 113.75 L129.30 114.67 L130.79 115.58 L132.29 116.48 L133.80 117.37 M134.81 117.97 L136.32 118.85 L137.84 119.72 L139.36 120.59 L140.89 121.45 M141.92 122.02 L143.45 122.86 L144.98 123.70 L146.53 124.53 L148.07 125.35 M149.11 125.90 L150.66 126.72 L152.21 127.53 L153.76 128.35 L155.30 129.17 M156.34 129.72 L157.89 130.54 L159.43 131.35 L160.98 132.17 L162.53 132.98 M163.58 133.52 L165.13 134.33 L166.69 135.13 L168.25 135.92 L169.82 136.70 M170.87 137.22 L172.45 137.98 L174.03 138.73 L175.61 139.47 L177.21 140.19 M178.28 140.67 L179.89 141.36 L181.50 142.04 L183.12 142.70 L184.75 143.35 M185.84 143.78 L187.47 144.42 L189.10 145.05 L190.74 145.68 L192.37 146.31 M193.47 146.73 L195.10 147.37 L196.73 148.01 L198.35 148.65 L199.98 149.29 M201.08 149.72 L202.71 150.35 L204.34 150.99 L205.97 151.62 L207.61 152.24 M208.71 152.66 L210.34 153.29 L211.98 153.90 L213.62 154.52 L215.26 155.13 M216.36 155.54 L218.00 156.15 L219.64 156.75 L221.29 157.35 L222.93 157.94 M224.04 158.34 L225.69 158.92 L227.34 159.51 L228.99 160.08 L230.65 160.66 M231.76 161.04 L233.41 161.60 L235.07 162.16 L236.73 162.71 L238.40 163.26 M239.51 163.63 L241.18 164.17 L242.84 164.71 L244.51 165.25 L246.17 165.78 M247.29 166.14 L248.96 166.67 L250.63 167.19 L252.30 167.71 L253.97 168.23 M255.10 168.57 L256.77 169.09 L258.45 169.60 L260.12 170.10 L261.80 170.60 M262.93 170.94 L264.60 171.43 L266.28 171.92 L267.96 172.41 L269.65 172.90 M270.78 173.22 L272.46 173.70 L274.14 174.18 L275.83 174.65 L277.51 175.12 M278.65 175.44 L280.33 175.90 L282.02 176.36 L283.71 176.81 L285.40 177.27 M286.54 177.57 L288.23 178.01 L289.92 178.46 L291.62 178.89 L293.31 179.33 M294.45 179.62 L296.15 180.05 L297.85 180.48 L299.54 180.90 L301.24 181.32 M302.38 181.61 L304.08 182.02 L305.79 182.44 L307.49 182.85 L309.19 183.26 M310.33 183.53 L312.03 183.93 L313.74 184.34 L315.44 184.74 L317.14 185.13 M318.29 185.40 L320.00 185.80 L321.70 186.19 L323.41 186.58 L325.11 186.97 M326.26 187.23 L327.97 187.62 L329.67 188.00 L331.38 188.38 L333.09 188.76 M334.24 189.01 L335.95 189.39 L337.66 189.76 L339.37 190.13 L341.08 190.49 M342.23 190.74 L343.94 191.10 L345.65 191.47 L347.36 191.84 L349.08 192.20 M350.23 192.45 L351.94 192.81 L353.65 193.18 L355.36 193.55 L357.07 193.93 M358.21 194.19 L359.92 194.57 L361.63 194.95 L363.34 195.33 L365.04 195.72 M366.19 195.97 L367.90 196.35 L369.61 196.73 L371.32 197.10 L373.03 197.46 M374.19 197.70 L375.47 197.96 L376.75 198.22 L378.04 198.48 L379.32 198.74 " stroke="#14f0aa" stroke-width="2.1"/>
<path d="M69.26 15.18 L70.17 18.08 L71.07 20.84 L71.98 23.49 L72.89 26.01 L73.80 28.44 L74.70 30.77 L75.61 33.01 L76.52 35.16 L77.42 37.24 L78.33 39.24 L79.24 41.18 L80.15 43.05 L81.05 44.87 L81.96 46.62 L82.87 48.33 L83.78 49.98 L84.68 51.59 L85.59 53.15 L86.50 54.68 L87.40 56.18 L88.31 57.65 L89.22 59.09 L90.13 60.51 L91.03 61.89 L91.94 63.25 L92.85 64.58 L93.76 65.89 L94.66 67.17 L95.57 68.43 L96.48 69.65 L97.38 70.86 L98.29 72.03 L99.20 73.19 L100.11 74.31 L101.01 75.41 L101.92 76.48 L102.83 77.53 L103.74 78.55 L104.64 79.54 L105.55 80.51 L106.46 81.45 L107.36 82.39 L108.27 83.31 L109.18 84.21 L110.09 85.10 L110.99 85.97 L111.90 86.83 L112.81 87.68 L113.72 88.52 L114.62 89.34 L115.53 90.16 L116.44 90.96 L117.34 91.75 L118.25 92.52 L119.16 93.29 L120.07 94.05 L120.97 94.80 L121.88 95.54 L122.79 96.27 L123.70 96.99 L124.60 97.70 L125.51 98.40 L126.42 99.10 L127.32 99.78 L128.23 100.46 L129.14 101.13 L130.05 101.80 L130.95 102.45 L131.86 103.10 L132.77 103.74 L133.68 104.38 L134.58 105.01 L135.49 105.63 L136.40 106.24 L137.30 106.84 L138.21 107.43 L139.12 108.02 L140.03 108.59 L140.93 109.16 L141.84 109.72 L142.75 110.27 L143.66 110.82 L144.56 111.36 L145.47 111.89 L146.38 112.42 L147.28 112.94 L148.19 113.46 L149.10 113.97 L150.01 114.48 L150.91 114.99 L151.82 115.49 L152.73 115.99 L153.64 116.48 L154.54 116.98 L155.45 117.47 L156.36 117.96 L157.26 118.45 L158.17 118.94 L159.08 119.43 L159.99 119.92 L160.89 120.41 L161.80 120.90 L162.71 121.38 L163.62 121.87 L164.52 122.35 L165.43 122.83 L166.34 123.31 L167.24 123.79 L168.15 124.27 L169.06 124.74 L169.97 125.21 L170.87 125.67 L171.78 126.14 L172.69 126.59 L173.60 127.05 L174.50 127.50 L175.41 127.95 L176.32 128.39 L177.22 128.83 L178.13 129.26 L179.04 129.69 L179.95 130.11 L180.85 130.53 L181.76 130.94 L182.67 131.35 L183.58 131.76 L184.48 132.17 L185.39 132.57 L186.30 132.97 L187.20 133.37 L188.11 133.77 L189.02 134.16 L189.93 134.55 L190.83 134.94 L191.74 135.33 L192.65 135.72 L193.56 136.10 L194.46 136.49 L195.37 136.87 L196.28 137.26 L197.18 137.64 L198.09 138.03 L199.00 138.41 L199.91 138.79 L200.81 139.17 L201.72 139.55 L202.63 139.92 L203.54 140.30 L204.44 140.67 L205.35 141.05 L206.26 141.42 L207.16 141.79 L208.07 142.16 L208.98 142.53 L209.89 142.90 L210.79 143.27 L211.70 143.64 L212.61 144.00 L213.52 144.36 L214.42 144.73 L215.33 145.09 L216.24 145.45 L217.14 145.81 L218.05 146.16 L218.96 146.52 L219.87 146.88 L220.77 147.23 L221.68 147.58 L222.59 147.93 L223.50 148.28 L224.40 148.63 L225.31 148.98 L226.22 149.32 L227.12 149.67 L228.03 150.01 L228.94 150.35 L229.85 150.69 L230.75 151.03 L231.66 151.37 L232.57 151.70 L233.48 152.04 L234.38 152.37 L235.29 152.70 L236.20 153.03 L237.10 153.36 L238.01 153.69 L238.92 154.02 L239.83 154.34 L240.73 154.67 L241.64 154.99 L242.55 155.32 L243.46 155.64 L244.36 155.96 L245.27 156.28 L246.18 156.60 L247.08 156.92 L247.99 157.24 L248.90 157.56 L249.81 157.88 L250.71 158.19 L251.62 158.51 L252.53 158.82 L253.44 159.13 L254.34 159.45 L255.25 159.76 L256.16 160.07 L257.06 160.38 L257.97 160.68 L258.88 160.99 L259.79 161.30 L260.69 161.60 L261.60 161.91 L262.51 162.21 L263.42 162.51 L264.32 162.81 L265.23 163.11 L266.14 163.41 L267.04 163.70 L267.95 164.00 L268.86 164.30 L269.77 164.59 L270.67 164.88 L271.58 165.17 L272.49 165.46 L273.40 165.75 L274.30 166.04 L275.21 166.33 L276.12 166.61 L277.02 166.89 L277.93 167.18 L278.84 167.46 L279.75 167.74 L280.65 168.02 L281.56 168.29 L282.47 168.57 L283.38 168.85 L284.28 169.12 L285.19 169.40 L286.10 169.67 L287.00 169.95 L287.91 170.22 L288.82 170.49 L289.73 170.77 L290.63 171.04 L291.54 171.31 L292.45 171.58 L293.36 171.85 L294.26 172.12 L295.17 172.39 L296.08 172.65 L296.98 172.92 L297.89 173.19 L298.80 173.46 L299.71 173.72 L300.61 173.99 L301.52 174.25 L302.43 174.51 L303.34 174.77 L304.24 175.03 L305.15 175.29 L306.06 175.54 L306.96 175.80 L307.87 176.05 L308.78 176.30 L309.69 176.55 L310.59 176.80 L311.50 177.05 L312.41 177.30 L313.32 177.54 L314.22 177.79 L315.13 178.03 L316.04 178.28 L316.94 178.52 L317.85 178.76 L318.76 179.01 L319.67 179.25 L320.57 179.49 L321.48 179.73 L322.39 179.97 L323.30 180.21 L324.20 180.45 L325.11 180.69 L326.02 180.92 L326.92 181.16 L327.83 181.40 L328.74 181.64 L329.65 181.88 L330.55 182.11 L331.46 182.34 L332.37 182.58 L333.28 182.81 L334.18 183.04 L335.09 183.27 L336.00 183.49 L336.90 183.72 L337.81 183.95 L338.72 184.17 L339.63 184.40 L340.53 184.63 L341.44 184.85 L342.35 185.08 L343.26 185.30 L344.16 185.53 L345.07 185.76 L345.98 185.99 L346.88 186.21 L347.79 186.44 L348.70 186.67 L349.61 186.90 L350.51 187.13 L351.42 187.37 L352.33 187.60 L353.24 187.84 L354.14 188.08 L355.05 188.32 L355.96 188.56 L356.86 188.80 L357.77 189.05 L358.68 189.29 L359.59 189.54 L360.49 189.79 L361.40 190.03 L362.31 190.28 L363.22 190.53 L364.12 190.78 L365.03 191.03 L365.94 191.27 L366.84 191.52 L367.75 191.77 L368.66 192.01 L369.57 192.25 L370.47 192.50 L371.38 192.73 L372.29 192.97 L373.20 193.21 L374.10 193.44 L375.01 193.67 L375.92 193.90 L376.82 194.13 L377.73 194.36 L378.64 194.59 L379.55 194.82 " stroke="#14f0aa" stroke-width="2.1"/>
<path d="M54.97 15.03 L55.88 17.49 L56.78 19.86 L57.69 22.15 L58.60 24.36 L59.51 26.49 L60.41 28.55 L61.32 30.55 L62.23 32.48 L63.14 34.36 L64.04 36.18 L64.95 37.96 L65.86 39.68 L66.76 41.36 L67.67 43.00 L68.58 44.60 L69.49 46.15 L70.39 47.67 L71.30 49.16 L72.21 50.61 L73.12 52.03 L74.02 53.42 L74.93 54.78 L75.84 56.11 L76.74 57.41 L77.65 58.69 L78.56 59.94 L79.47 61.17 L80.37 62.38 L81.28 63.57 L82.19 64.73 L83.10 65.87 L84.00 67.00 L84.91 68.10 L85.82 69.19 L86.72 70.28 L87.63 71.36 L88.54 72.44 L89.45 73.51 L90.35 74.57 L91.26 75.61 L92.17 76.65 L93.08 77.67 L93.98 78.68 L94.89 79.67 L95.80 80.64 L96.70 81.60 L97.61 82.53 L98.52 83.44 L99.43 84.33 L100.33 85.19 L101.24 86.04 L102.15 86.88 L103.06 87.71 L103.96 88.52 L104.87 89.33 L105.78 90.13 L106.68 90.92 L107.59 91.70 L108.50 92.46 L109.41 93.21 L110.31 93.95 L111.22 94.66 L112.13 95.36 L113.04 96.04 L113.94 96.72 L114.85 97.38 L115.76 98.03 L116.66 98.67 L117.57 99.31 L118.48 99.94 L119.39 100.56 L120.29 101.19 L121.20 101.81 L122.11 102.43 L123.02 103.06 L123.92 103.68 L124.83 104.32 L125.74 104.95 L126.64 105.58 L127.55 106.20 L128.46 106.82 L129.37 107.43 L130.27 108.04 L131.18 108.64 L132.09 109.23 L133.00 109.82 L133.90 110.41 L134.81 110.99 L135.72 111.57 L136.62 112.14 L137.53 112.70 L138.44 113.27 L139.35 113.82 L140.25 114.38 L141.16 114.93 L142.07 115.47 L142.98 116.01 L143.88 116.55 L144.79 117.08 L145.70 117.61 L146.60 118.13 L147.51 118.65 L148.42 119.17 L149.33 119.68 L150.23 120.19 L151.14 120.70 L152.05 121.21 L152.96 121.72 L153.86 122.22 L154.77 122.73 L155.68 123.24 L156.58 123.74 L157.49 124.24 L158.40 124.75 L159.31 125.25 L160.21 125.74 L161.12 126.24 L162.03 126.73 L162.94 127.23 L163.84 127.71 L164.75 128.20 L165.66 128.68 L166.56 129.16 L167.47 129.64 L168.38 130.11 L169.29 130.58 L170.19 131.05 L171.10 131.51 L172.01 131.97 L172.92 132.42 L173.82 132.87 L174.73 133.31 L175.64 133.75 L176.54 134.18 L177.45 134.60 L178.36 135.03 L179.27 135.44 L180.17 135.85 L181.08 136.26 L181.99 136.66 L182.90 137.05 L183.80 137.44 L184.71 137.83 L185.62 138.22 L186.52 138.60 L187.43 138.98 L188.34 139.36 L189.25 139.74 L190.15 140.11 L191.06 140.49 L191.97 140.86 L192.88 141.23 L193.78 141.61 L194.69 141.98 L195.60 142.36 L196.50 142.73 L197.41 143.11 L198.32 143.48 L199.23 143.86 L200.13 144.23 L201.04 144.60 L201.95 144.97 L202.86 145.35 L203.76 145.72 L204.67 146.08 L205.58 146.45 L206.48 146.82 L207.39 147.19 L208.30 147.55 L209.21 147.91 L210.11 148.28 L211.02 148.64 L211.93 149.00 L212.84 149.36 L213.74 149.72 L214.65 150.07 L215.56 150.43 L216.46 150.79 L217.37 151.14 L218.28 151.49 L219.19 151.84 L220.09 152.19 L221.00 152.54 L221.91 152.88 L222.82 153.23 L223.72 153.57 L224.63 153.91 L225.54 154.25 L226.44 154.59 L227.35 154.93 L228.26 155.26 L229.17 155.60 L230.07 155.93 L230.98 156.26 L231.89 156.59 L232.80 156.91 L233.70 157.24 L234.61 157.56 L235.52 157.88 L236.42 158.20 L237.33 158.51 L238.24 158.83 L239.15 159.14 L240.05 159.46 L240.96 159.77 L241.87 160.08 L242.78 160.39 L243.68 160.70 L244.59 161.01 L245.50 161.32 L246.40 161.62 L247.31 161.93 L248.22 162.23 L249.13 162.53 L250.03 162.84 L250.94 163.14 L251.85 163.43 L252.76 163.73 L253.66 164.03 L254.57 164.33 L255.48 164.62 L256.38 164.91 L257.29 165.21 L258.20 165.50 L259.11 165.79 L260.01 166.08 L260.92 166.37 L261.83 166.65 L262.74 166.94 L263.64 167.22 L264.55 167.50 L265.46 167.79 L266.36 168.07 L267.27 168.35 L268.18 168.63 L269.09 168.90 L269.99 169.18 L270.90 169.45 L271.81 169.73 L272.72 170.00 L273.62 170.27 L274.53 170.54 L275.44 170.81 L276.34 171.08 L277.25 171.34 L278.16 171.61 L279.07 171.87 L279.97 172.14 L280.88 172.40 L281.79 172.66 L282.70 172.92 L283.60 173.17 L284.51 173.43 L285.42 173.68 L286.32 173.94 L287.23 174.19 L288.14 174.44 L289.05 174.69 L289.95 174.94 L290.86 175.19 L291.77 175.43 L292.68 175.68 L293.58 175.92 L294.49 176.17 L295.40 176.41 L296.30 176.65 L297.21 176.89 L298.12 177.14 L299.03 177.38 L299.93 177.62 L300.84 177.85 L301.75 178.09 L302.66 178.33 L303.56 178.56 L304.47 178.80 L305.38 179.03 L306.28 179.26 L307.19 179.49 L308.10 179.72 L309.01 179.95 L309.91 180.18 L310.82 180.41 L311.73 180.64 L312.64 180.86 L313.54 181.09 L314.45 181.31 L315.36 181.53 L316.26 181.76 L317.17 181.98 L318.08 182.20 L318.99 182.42 L319.89 182.64 L320.80 182.86 L321.71 183.08 L322.62 183.30 L323.52 183.52 L324.43 183.74 L325.34 183.96 L326.24 184.18 L327.15 184.39 L328.06 184.61 L328.97 184.83 L329.87 185.05 L330.78 185.26 L331.69 185.48 L332.60 185.69 L333.50 185.91 L334.41 186.12 L335.32 186.33 L336.22 186.54 L337.13 186.75 L338.04 186.97 L338.95 187.18 L339.85 187.39 L340.76 187.60 L341.67 187.81 L342.58 188.02 L343.48 188.22 L344.39 188.43 L345.30 188.64 L346.20 188.85 L347.11 189.06 L348.02 189.27 L348.93 189.48 L349.83 189.69 L350.74 189.90 L351.65 190.11 L352.56 190.32 L353.46 190.53 L354.37 190.74 L355.28 190.95 L356.18 191.17 L357.09 191.38 L358.00 191.60 L358.91 191.82 L359.81 192.04 L360.72 192.26 L361.63 192.48 L362.54 192.69 L363.44 192.91 L364.35 193.13 L365.26 193.35 L366.16 193.57 L367.07 193.79 L367.98 194.00 L368.89 194.22 L369.79 194.43 L370.70 194.64 L371.61 194.85 L372.52 195.06 L373.42 195.27 L374.33 195.47 L375.24 195.67 L376.14 195.87 L377.05 196.07 L377.96 196.27 L378.87 196.47 L379.77 196.67 " stroke="#000" stroke-width="2.3"/>
</g>
<line x1="46.5" x2="49.0" y1="214.09" y2="214.09" stroke="#555" stroke-width="0.8"/>
<line x1="46.5" x2="50.7" y1="201.40" y2="201.40" stroke="#555" stroke-width="0.8"/>
<line x1="46.5" x2="49.0" y1="188.72" y2="188.72" stroke="#555" stroke-width="0.8"/>
<line x1="46.5" x2="49.0" y1="176.03" y2="176.03" stroke="#555" stroke-width="0.8"/>
<line x1="46.5" x2="49.0" y1="163.34" y2="163.34" stroke="#555" stroke-width="0.8"/>
<line x1="46.5" x2="50.7" y1="150.66" y2="150.66" stroke="#555" stroke-width="0.8"/>
<line x1="46.5" x2="49.0" y1="137.97" y2="137.97" stroke="#555" stroke-width="0.8"/>
<line x1="46.5" x2="49.0" y1="125.29" y2="125.29" stroke="#555" stroke-width="0.8"/>
<line x1="46.5" x2="49.0" y1="112.61" y2="112.61" stroke="#555" stroke-width="0.8"/>
<line x1="46.5" x2="50.7" y1="99.92" y2="99.92" stroke="#555" stroke-width="0.8"/>
<line x1="46.5" x2="49.0" y1="87.23" y2="87.23" stroke="#555" stroke-width="0.8"/>
<line x1="46.5" x2="49.0" y1="74.55" y2="74.55" stroke="#555" stroke-width="0.8"/>
<line x1="46.5" x2="49.0" y1="61.87" y2="61.87" stroke="#555" stroke-width="0.8"/>
<line x1="46.5" x2="50.7" y1="49.18" y2="49.18" stroke="#555" stroke-width="0.8"/>
<line x1="46.5" x2="49.0" y1="36.50" y2="36.50" stroke="#555" stroke-width="0.8"/>
<line x1="48.20" x2="48.20" y1="226.5" y2="222.3" stroke="#555" stroke-width="0.8"/>
<line x1="113.30" x2="113.30" y1="226.5" y2="222.3" stroke="#555" stroke-width="0.8"/>
<line x1="178.40" x2="178.40" y1="226.5" y2="222.3" stroke="#555" stroke-width="0.8"/>
<line x1="243.50" x2="243.50" y1="226.5" y2="222.3" stroke="#555" stroke-width="0.8"/>
<line x1="308.60" x2="308.60" y1="226.5" y2="222.3" stroke="#555" stroke-width="0.8"/>
<line x1="373.70" x2="373.70" y1="226.5" y2="222.3" stroke="#555" stroke-width="0.8"/>
<line x1="374.5" x2="370.3" y1="39.30" y2="39.30" stroke="#555" stroke-width="0.8"/>
<line x1="374.5" x2="370.3" y1="64.56" y2="64.56" stroke="#555" stroke-width="0.8"/>
<line x1="374.5" x2="370.3" y1="89.82" y2="89.82" stroke="#555" stroke-width="0.8"/>
<line x1="374.5" x2="370.3" y1="115.08" y2="115.08" stroke="#555" stroke-width="0.8"/>
<line x1="374.5" x2="370.3" y1="140.34" y2="140.34" stroke="#555" stroke-width="0.8"/>
<line x1="374.5" x2="370.3" y1="165.60" y2="165.60" stroke="#555" stroke-width="0.8"/>
<line x1="374.5" x2="370.3" y1="190.86" y2="190.86" stroke="#555" stroke-width="0.8"/>
<line x1="374.5" x2="370.3" y1="216.12" y2="216.12" stroke="#555" stroke-width="0.8"/>
</svg>
<div id="txt" style="position:absolute;left:0;top:0;width:433px;height:272px;will-change:transform">
<div class="t cy" style="left:48.2px;top:228.67px;font-size:16.4px;">171</div>
<div class="t cy" style="left:113.3px;top:228.67px;font-size:16.4px;">171.5</div>
<div class="t cy" style="left:178.4px;top:228.67px;font-size:16.4px;">172</div>
<div class="t cy" style="left:243.5px;top:228.67px;font-size:16.4px;">172.5</div>
<div class="t cy" style="left:308.6px;top:228.67px;font-size:16.4px;">173</div>
<div class="t cy" style="left:373.7px;top:228.67px;font-size:16.4px;">173.5</div>
<div class="t ry" style="left:43.6px;top:192.37px;font-size:16.4px;">10</div>
<div class="t ry" style="left:43.6px;top:141.62px;font-size:16.4px;">12</div>
<div class="t ry" style="left:43.6px;top:90.89px;font-size:16.4px;">14</div>
<div class="t ry" style="left:43.6px;top:40.15px;font-size:16.4px;">16</div>
<div class="t y" style="left:377.9px;top:31.77px;font-size:16.4px;">10<span class="s" style="font-size:12px;top:-6.0px;left:0.2px">4</span></div>
<div class="t y" style="left:377.9px;top:57.03px;font-size:16.4px;">10<span class="s" style="font-size:12px;top:-6.0px;left:0.2px">6</span></div>
<div class="t y" style="left:377.9px;top:82.28px;font-size:16.4px;">10<span class="s" style="font-size:12px;top:-6.0px;left:0.2px">8</span></div>
<div class="t y" style="left:377.9px;top:107.55px;font-size:16.4px;">10<span class="s" style="font-size:12px;top:-6.0px;left:0.2px">10</span></div>
<div class="t y" style="left:377.9px;top:132.81px;font-size:16.4px;">10<span class="s" style="font-size:12px;top:-6.0px;left:0.2px">12</span></div>
<div class="t y" style="left:377.9px;top:158.06px;font-size:16.4px;">10<span class="s" style="font-size:12px;top:-6.0px;left:0.2px">14</span></div>
<div class="t y" style="left:377.9px;top:183.32px;font-size:16.4px;">10<span class="s" style="font-size:12px;top:-6.0px;left:0.2px">16</span></div>
<div class="t y" style="left:377.9px;top:208.58px;font-size:16.4px;">10<span class="s" style="font-size:12px;top:-6.0px;left:0.2px">18</span></div>
<div class="t " id="xl" style="left:178.2px;top:252.13px;font-size:16.2px;"><i>m</i><span class="s" style="font-size:12.2px;top:2.6px;font-style:italic">t</span><span style="display:inline-block;width:7.2px"></span>[GeV]</div>
<div class="t" id="yl" style="left:0;top:0;transform-origin:0 0;transform:translate(-1.5px,179.5px) rotate(-90deg);font-size:16.5px">Log<span class="s" style="font-size:11.4px;top:3.2px;margin-left:1.9px;letter-spacing:0.4px">10</span><span style="display:inline-block;width:5.7px"></span><i>&#981;</i><span class="s" style="font-size:12.3px;top:2.8px;font-style:italic;margin-left:-0.6px">B</span><span style="display:inline-block;width:3.4px"></span>[GeV]</div>
<div class="t" id="rl" style="left:0;top:0;transform-origin:0 0;transform:translate(412.6px,139.1px) rotate(-90deg);font-size:16.5px"><i style="font-size:17.8px">&#958;</i><span class="s" style="font-size:12px;top:3px;margin-left:0.2px">min</span></div>
<div class="t c" id="l1" style="left:284.9px;top:37.06px;font-size:14.5px;">orange<span style="letter-spacing:1.1px">=&#177;&#916;</span><i>&#945;</i><span class="s" style="font-size:10px;top:2.6px;font-style:italic">s</span><span class="s" style="font-size:11px;top:-5.7px;left:-4.4px;letter-spacing:0.7px">(5)</span></div>
<div class="t c" id="l2" style="left:282.3px;top:60.16px;font-size:14.5px;">green<span style="letter-spacing:1.1px">=&#177;&#916;</span>m<span class="s" style="font-size:10.4px;top:1.5px;font-style:italic">H</span></div>
<div class="t c" id="l3" style="left:281.6px;top:84.46px;font-size:14.5px;word-spacing:0.3px;">+ solid, &#8722; dashed</div>
</div></body></html>
